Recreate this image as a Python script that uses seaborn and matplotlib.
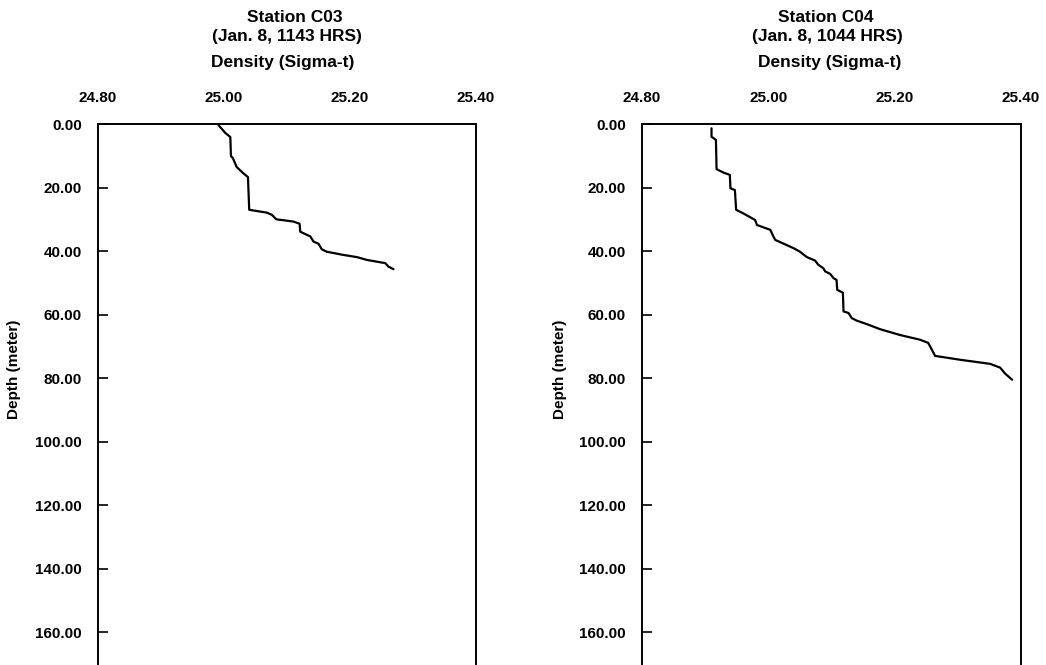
import matplotlib
matplotlib.use("Agg")
import matplotlib.pyplot as plt
import seaborn as sns
import pandas as pd

# ---- data ----
c03_density = [24.991, 25.002, 25.010, 25.011, 25.014, 25.020, 25.030, 25.038,
               25.040, 25.068, 25.076, 25.083, 25.110, 25.120, 25.121, 25.137,
               25.142, 25.150, 25.155, 25.163, 25.189, 25.211, 25.227, 25.256,
               25.261, 25.269]
c03_depth = [0.3, 2.8, 4.1, 10.1, 10.7, 13.5, 15.4, 16.7,
             27.0, 27.9, 28.6, 30.0, 30.7, 31.4, 33.9, 35.4,
             37.0, 37.7, 39.4, 40.2, 41.2, 41.9, 42.8, 43.8,
             44.9, 45.7]

c04_density = [24.910, 24.910, 24.917, 24.918, 24.929, 24.939, 24.940, 24.947,
               24.949, 24.960, 24.979, 24.982, 25.003, 25.008, 25.011, 25.029,
               25.040, 25.050, 25.061, 25.074, 25.079, 25.087, 25.090, 25.098,
               25.103, 25.108, 25.109, 25.118, 25.119, 25.127, 25.132, 25.140,
               25.156, 25.177, 25.208, 25.240, 25.253, 25.259, 25.264, 25.303,
               25.351, 25.367, 25.375, 25.386]
c04_depth = [1.35, 4.0, 5.0, 14.2, 15.3, 16.0, 20.2, 20.8,
             27.0, 28.1, 30.2, 31.8, 33.3, 35.4, 36.5, 38.1,
             39.1, 40.2, 41.9, 43.0, 44.3, 45.4, 46.4, 47.2,
             48.5, 49.1, 52.2, 53.1, 59.0, 59.5, 61.1, 61.9,
             63.0, 64.6, 66.4, 67.9, 68.9, 71.1, 73.0, 74.2,
             75.5, 76.7, 78.6, 80.5]

x_ticks = [24.80, 25.00, 25.20, 25.40]
y_ticks = [0, 20, 40, 60, 80, 100, 120, 140, 160]

stations = ["Station C03", "Station C04"]
times = ["(Jan. 8, 1143 HRS)", "(Jan. 8, 1044 HRS)"]
x_title = "Density (Sigma-t)"
y_title = "Depth (meter)"

# ---- style ----
sns.set_theme(style="white")
plt.rcParams["font.family"] = ["Liberation Sans", "DejaVu Sans"]
plt.rcParams["font.weight"] = "bold"
plt.rcParams["text.color"] = "black"
plt.rcParams["axes.labelcolor"] = "black"
plt.rcParams["xtick.color"] = "black"
plt.rcParams["ytick.color"] = "black"

fig = plt.figure(figsize=(10.46, 6.65), dpi=100)
ax_pos = [[0.0937, 0.0015, 0.3614, 0.812], [0.6138, 0.0015, 0.3623, 0.812]]
title_x = [[0.282, 0.274, 0.270], [0.789, 0.791, 0.793]]

frames = [pd.DataFrame({"density": c03_density, "depth": c03_depth}),
          pd.DataFrame({"density": c04_density, "depth": c04_depth})]

for i in range(2):
    ax = fig.add_axes(ax_pos[i])
    sns.lineplot(data=frames[i], x="density", y="depth", sort=False,
                 estimator=None, color="black", linewidth=1.6, ax=ax)
    ax.set_xlim(24.80, 25.40)
    ax.set_ylim(170, 0)
    ax.set_xticks(x_ticks)
    ax.set_xticklabels([f"{v:.2f}" for v in x_ticks], fontsize=11, fontweight="bold")
    ax.set_yticks(y_ticks)
    ax.set_yticklabels([f"{v:.2f}" for v in y_ticks], fontsize=11, fontweight="bold")
    ax.xaxis.tick_top()
    ax.tick_params(axis="x", top=True, bottom=False, length=0, pad=14)
    ax.tick_params(axis="y", left=True, right=False, direction="in",
                   length=7, width=1.2, pad=11.5, color="black")
    ax.set_xlabel("")
    ax.set_ylabel(y_title, fontsize=11, fontweight="bold", color="black")
    ax.yaxis.set_label_coords(-0.204 if i == 0 else -0.198, 0.545)
    for s in ax.spines.values():
        s.set_color("black")
        s.set_linewidth(1.4)
    ax.spines["bottom"].set_visible(False)

    fig.text(title_x[i][0], 1 - 17 / 665, stations[i], ha="center", va="center",
             fontsize=12.5, fontweight="bold", color="black")
    fig.text(title_x[i][1], 1 - 37 / 665, times[i], ha="center", va="center",
             fontsize=12.5, fontweight="bold", color="black")
    fig.text(title_x[i][2], 1 - 62 / 665, x_title, ha="center", va="center",
             fontsize=12.5, fontweight="bold", color="black")

fig.savefig("out.png", dpi=100, facecolor="white")
